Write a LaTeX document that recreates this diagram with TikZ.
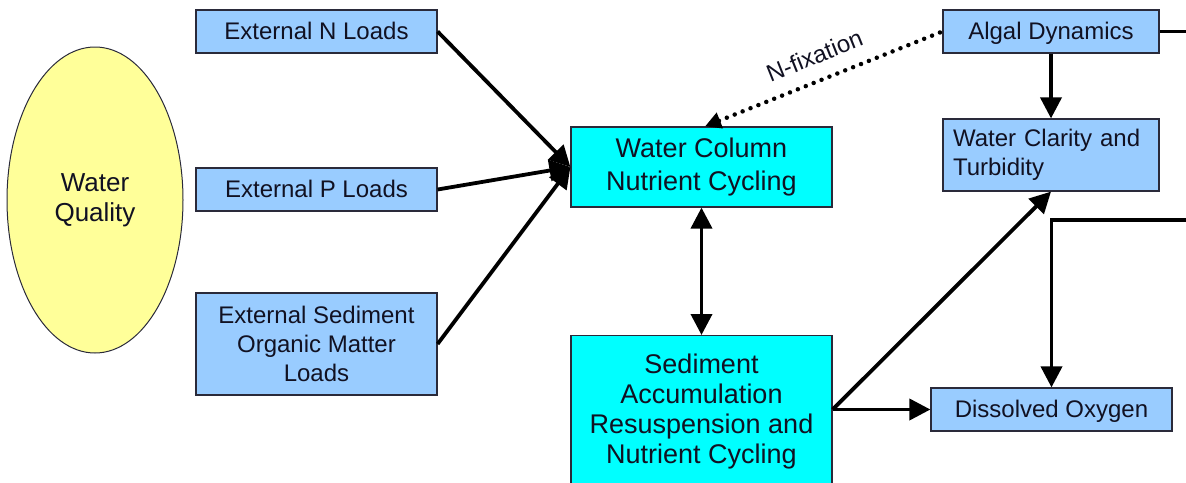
\documentclass[tikz,border=0pt]{standalone}
\usepackage{fontspec}
\setmainfont{Liberation Sans}
\usetikzlibrary{arrows.meta,shapes.geometric,calc}
\definecolor{boxblue}{HTML}{99CCFF}
\definecolor{boxcyan}{HTML}{00FFFF}
\definecolor{ellyellow}{HTML}{FFFF99}
\definecolor{edgecol}{HTML}{2A2A3A}
\definecolor{txtcol}{HTML}{111122}
\begin{document}
\begin{tikzpicture}[x=1pt,y=-1pt,
  bluebox/.style={draw=edgecol, line width=1.2pt, fill=boxblue, minimum width=241pt,
    minimum height=43pt, inner sep=0pt, text=txtcol, font=\fontsize{24}{29}\selectfont},
  oneline/.style={text height=16pt, text depth=0pt},
  cyanbox/.style={draw=edgecol, line width=1.2pt, fill=boxcyan, minimum width=261pt,
    inner sep=0pt, align=center, text=txtcol},
  conn/.style={line width=3.8pt, -{Triangle[length=21pt,width=21pt]}},
  dblconn/.style={line width=3.8pt, {Triangle[length=21pt,width=21pt]}-{Triangle[length=21pt,width=21pt]}},
  plainconn/.style={line width=3.8pt},
  dotconn/.style={line width=4.5pt, line cap=round, dash pattern=on 0pt off 8.5pt,
    {Triangle[length=16pt,width=16pt]}-}
]
\useasboundingbox (0,0) rectangle (1186,482);
\clip (0,0) rectangle (1186,482);

% nodes
\node[ellipse, draw=edgecol, line width=1pt, fill=ellyellow, minimum width=176pt,
  minimum height=306pt, inner sep=0pt, align=center, text=txtcol,
  font=\fontsize{26}{30}\selectfont] (wq) at (95,200) {Water\\Quality};

\node[bluebox, oneline] (extN) at (316.5,31.5) {External N Loads};
\node[bluebox, oneline] (extP) at (316.5,189.5) {External P Loads};
\node[bluebox, minimum height=102pt, align=center] (extS) at (316.5,344)
  {External Sediment\\Organic Matter\\Loads};

\node[cyanbox, minimum height=80pt, font=\fontsize{27}{33}\selectfont] (wc) at (701.5,167)
  {Water Column\\Nutrient Cycling};
\node[cyanbox, anchor=north, inner ysep=18pt, font=\fontsize{27}{30}\selectfont] (sed) at (701.5,335)
  {Sediment\\Accumulation\\Resuspension and\\Nutrient Cycling};

\node[bluebox, oneline, minimum width=216pt] (algal) at (1051,31.5) {Algal Dynamics};
\node[bluebox, minimum width=216pt, minimum height=72pt, align=left, text width=196pt,
  xshift=5pt] (wcl) at (1046,155) {Water Clarity and\\Turbidity};
\node[bluebox, oneline] (do) at (1051.5,409.5) {Dissolved Oxygen};

% connectors
\draw[conn] (extN.east) -- (wc.west);
\draw[conn] (extP.east) -- (wc.west);
\draw[conn] (extS.east) -- (wc.west);
\draw[dblconn] (wc.south) -- (sed.north);

\coordinate (sedout) at (sed.east |- do.west);
\draw[conn] (sedout) -- (do.west);
\draw[conn] (sedout) -- (wcl.south);

\draw[conn] (algal.south) -- (wcl.north);
\coordinate (algout) at (1186,31.5);
\draw[plainconn] (algal.east) -- (algout);

\coordinate (doin) at (1186,220);
\draw[conn] (doin) -| (do.north);

\draw[dotconn] ([xshift=3.5pt]wc.north) -- node[pos=0.5, sloped, above=14pt, inner sep=0pt,
  text=txtcol, font=\fontsize{24}{29}\selectfont] (nfix) {N-fixation} (algal.west);
\end{tikzpicture}
\end{document}
